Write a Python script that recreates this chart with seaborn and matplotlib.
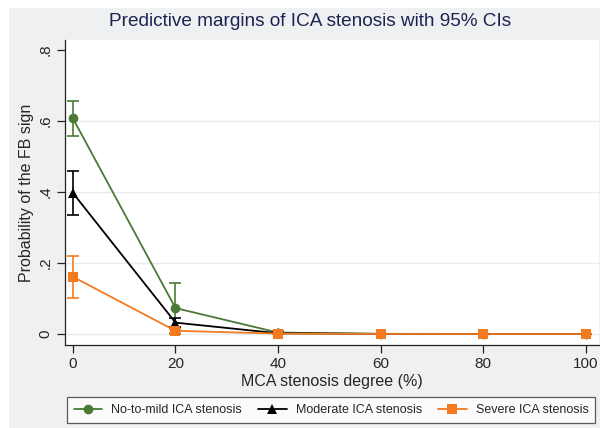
import matplotlib
matplotlib.use("Agg")
import matplotlib.pyplot as plt
import seaborn as sns
import pandas as pd
from matplotlib.patches import Rectangle
from matplotlib.lines import Line2D

mca = [0, 20, 40, 60, 80, 100]
groups = ["No-to-mild ICA stenosis", "Moderate ICA stenosis", "Severe ICA stenosis"]
mild = [0.607, 0.073, 0.004, 0.0005, 0.0002, 0.0001]
mild_lo = [0.559, 0.0, 0.0, 0.0, 0.0, 0.0]
mild_hi = [0.656, 0.145, 0.008, 0.001, 0.0004, 0.0002]
moderate = [0.397, 0.032, 0.002, 0.0003, 0.0001, 0.0001]
moderate_lo = [0.335, 0.020, 0.0, 0.0, 0.0, 0.0]
moderate_hi = [0.458, 0.044, 0.004, 0.0006, 0.0002, 0.0002]
severe = [0.161, 0.009, 0.001, 0.0001, 0.0, 0.0]
severe_lo = [0.101, 0.003, 0.0, 0.0, 0.0, 0.0]
severe_hi = [0.221, 0.015, 0.002, 0.0002, 0.0001, 0.0001]
yticks = [0, 0.2, 0.4, 0.6, 0.8]
ytick_labels = ["0", ".2", ".4", ".6", ".8"]

colors = ["#4A7A36", "#000000", "#F37A1F"]
markers = ["o", "^", "s"]

rows = []
for g, v, lo, hi in zip(groups, [mild, moderate, severe], [mild_lo, moderate_lo, severe_lo],
                        [mild_hi, moderate_hi, severe_hi]):
    for x, y, l, h in zip(mca, v, lo, hi):
        rows.append({"mca": x, "p": y, "lo": l, "hi": h, "group": g})
df = pd.DataFrame(rows)

sns.set_style("white")
plt.rcParams["font.family"] = ["Liberation Sans", "DejaVu Sans"]

fig = plt.figure(figsize=(6, 4.28), dpi=100, facecolor="white")
bg = Rectangle((9 / 600, 0), 1 - 9 / 600, 1 - 8 / 428, transform=fig.transFigure,
               facecolor="#EEF0F1", edgecolor="none", zorder=-10)
fig.patches.append(bg)

ax = fig.add_axes([65 / 600, 1 - 345 / 428, (599 - 65) / 600, (345 - 40) / 428])
ax.set_facecolor("white")

for g, c in zip(groups, colors):
    sub = df[df.group == g]
    ax.errorbar(sub.mca, sub.p, yerr=[sub.p - sub.lo, sub.hi - sub.p], fmt="none",
                ecolor=c, elinewidth=1.2, capsize=4, capthick=1.2, zorder=2)

sns.lineplot(data=df, x="mca", y="p", hue="group", style="group", hue_order=groups,
             style_order=groups, palette=colors, markers=markers, dashes=False,
             markersize=7, markeredgewidth=0, linewidth=1.3, ax=ax, legend=False, zorder=3)

ax.set_xlim(-1.55, 102.6)
ax.set_ylim(-0.031, 0.828)
ax.set_xticks(mca)
ax.set_xticklabels([str(m) for m in mca], fontsize=11)
ax.set_yticks(yticks)
ax.set_yticklabels(ytick_labels, fontsize=11, rotation=90, va="center")
for y in yticks[:-1]:
    ax.axhline(y, color="#E4EEF0", lw=1, zorder=0)
ax.tick_params(axis="both", direction="out", length=6, width=0.9, color="#222222", pad=3,
               bottom=True, left=True)
for s in ["top", "right"]:
    ax.spines[s].set_visible(False)
for s in ["left", "bottom"]:
    ax.spines[s].set_color("#222222")
    ax.spines[s].set_linewidth(0.9)

ax.set_xlabel("MCA stenosis degree (%)", fontsize=11.5, labelpad=2)
ax.set_ylabel("Probability of the FB sign", fontsize=11.5, labelpad=3)
fig.text(0.517, 1 - 22 / 428, "Predictive margins of ICA stenosis with 95% CIs",
         ha="center", va="center", fontsize=13.7, color="#1C2452")

handles = [Line2D([0], [0], color=c, marker=m, markersize=7, lw=1.3, markeredgewidth=0)
           for c, m in zip(colors, markers)]
leg = fig.legend(handles, groups, loc="center", bbox_to_anchor=(331 / 600, 1 - 410 / 428),
                 ncol=3, fontsize=9, frameon=True, fancybox=False, edgecolor="#333333",
                 handlelength=2.3, columnspacing=1.3, borderpad=0.55, handletextpad=0.7)
leg.get_frame().set_linewidth(0.9)

fig.savefig("out.png", dpi=100, facecolor=fig.get_facecolor())
